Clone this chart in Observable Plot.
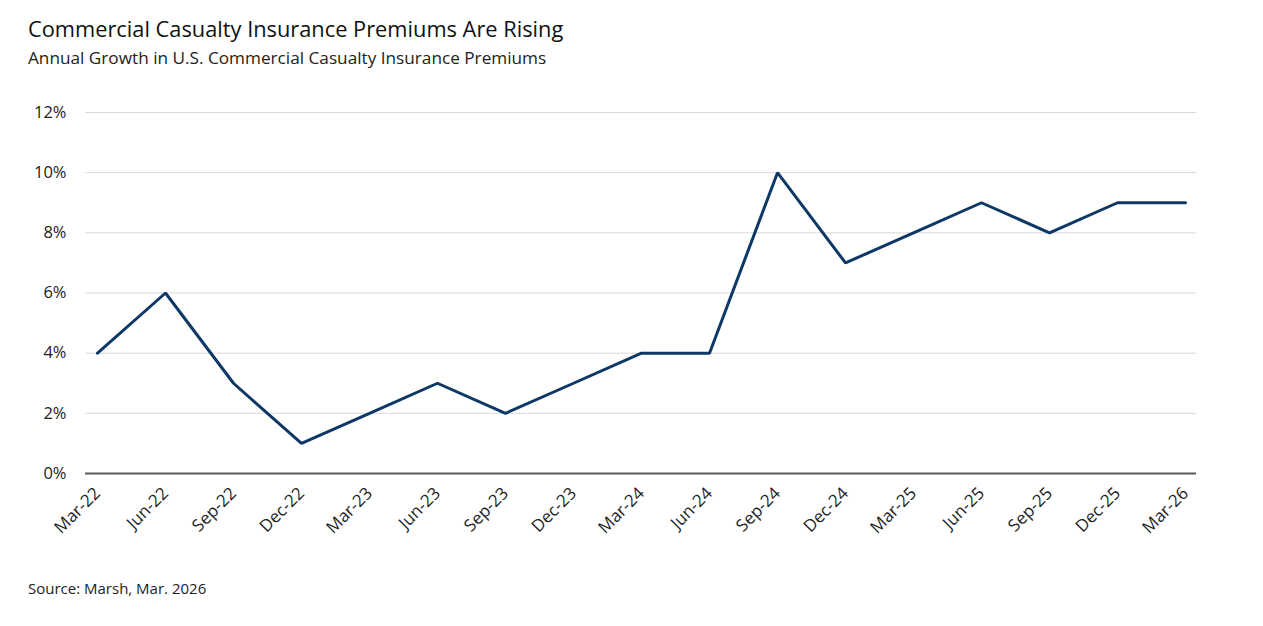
<!DOCTYPE html>
<html>
<head>
<meta charset="utf-8">
<script src="https://cdn.jsdelivr.net/npm/d3@7"></script>
<script src="https://cdn.jsdelivr.net/npm/@observablehq/plot@0.6"></script>
<style>
  html, body { margin: 0; padding: 0; background: #fff; }
  #wrap { position: relative; width: 1263px; height: 626px; font-family: "Open Sans", Lato, sans-serif; color: #1a1a1a; }
  #title { position: absolute; left: 28px; top: 14px; font-size: 21.8px; color: #111; }
  #subtitle { position: absolute; left: 28px; top: 46px; font-size: 17.2px; color: #222; }
  #chart { position: absolute; left: 0; top: 90px; }
  #source { position: absolute; left: 28px; top: 578px; font-size: 15px; color: #222; }
</style>
</head>
<body>
<div id="wrap">
  <div id="title">Commercial Casualty Insurance Premiums Are Rising</div>
  <div id="subtitle">Annual Growth in U.S. Commercial Casualty Insurance Premiums</div>
  <div id="chart"></div>
  <div id="source">Source: Marsh, Mar. 2026</div>
</div>
<script>
// Quarterly periods and annual premium growth (%)
const periods = ["Mar-22","Jun-22","Sep-22","Dec-22","Mar-23","Jun-23","Sep-23","Dec-23",
                 "Mar-24","Jun-24","Sep-24","Dec-24","Mar-25","Jun-25","Sep-25","Dec-25","Mar-26"];
const growth = [4, 6, 3, 1, 2, 3, 2, 3, 4, 4, 10, 7, 8, 9, 8, 9, 9];
const yTicks = [0, 2, 4, 6, 8, 10, 12];

const data = periods.map((p, i) => ({period: p, value: growth[i]}));

const chart = Plot.plot({
  width: 1263,
  height: 480,
  marginLeft: 85,
  marginRight: 67,
  marginTop: 22,
  marginBottom: 97,
  style: {fontFamily: "'Open Sans', Lato, sans-serif", fontSize: "16px", color: "#222", background: "transparent"},
  x: {type: "point", domain: periods, padding: 0.15, label: null},
  y: {domain: [0, 12], label: null},
  marks: [
    Plot.gridY(yTicks, {stroke: "#d9d9d9", strokeOpacity: 1, strokeWidth: 1}),
    Plot.axisY(yTicks, {tickSize: 0, tickPadding: 19, tickFormat: d => d + "%", fontSize: 16.5, fill: "#222", label: null}),
    Plot.axisX({tickSize: 0, tickPadding: 17, tickRotate: -45, fontSize: 17, fill: "#222", label: null}),
    Plot.ruleY([0], {stroke: "#595959", strokeWidth: 2}),
    Plot.lineY(data, {x: "period", y: "value", stroke: "#0d3866", strokeWidth: 3, strokeLinejoin: "miter"})
  ]
});
document.getElementById("chart").appendChild(chart);
</script>
</body>
</html>
